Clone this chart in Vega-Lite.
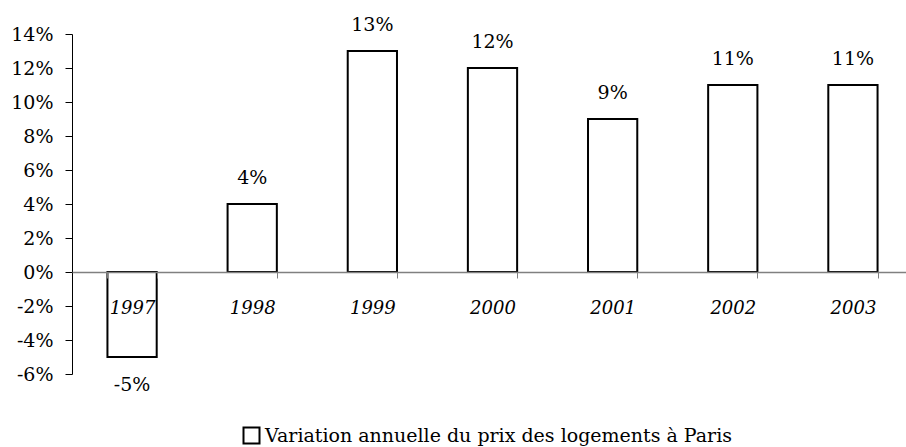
{
  "$schema": "https://vega.github.io/schema/vega-lite/v6.json",
  "autosize": "none",
  "padding": {"left": 72, "top": 34, "right": 0, "bottom": 73},
  "width": 841,
  "height": 340,
  "background": "white",
  "config": {
    "view": {"stroke": null},
    "font": "DejaVu Serif",
    "locale": {"number": {"decimal": ".", "thousands": ",", "grouping": [3], "currency": ["", ""], "minus": "-"}},
    "axis": {"grid": false, "labelFont": "DejaVu Serif", "labelFontSize": 19, "labelColor": "#000"},
    "legend": {"labelFont": "DejaVu Serif"},
    "text": {"font": "DejaVu Serif"}
  },
  "data": {
    "values": [
      {"annee": "1997", "v": -0.05, "serie": "Variation annuelle du prix des logements à Paris"},
      {"annee": "1998", "v": 0.04, "serie": "Variation annuelle du prix des logements à Paris"},
      {"annee": "1999", "v": 0.13, "serie": "Variation annuelle du prix des logements à Paris"},
      {"annee": "2000", "v": 0.12, "serie": "Variation annuelle du prix des logements à Paris"},
      {"annee": "2001", "v": 0.09, "serie": "Variation annuelle du prix des logements à Paris"},
      {"annee": "2002", "v": 0.11, "serie": "Variation annuelle du prix des logements à Paris"},
      {"annee": "2003", "v": 0.11, "serie": "Variation annuelle du prix des logements à Paris"}
    ]
  },
  "encoding": {
    "x": {
      "field": "annee", "type": "nominal",
      "scale": {"paddingInner": 0.59, "paddingOuter": 0.295},
      "axis": {
        "title": null, "labelAngle": 0, "offset": -102, "zindex": 1,
        "labelFontSize": 18,
        "domainColor": "#808080", "domainWidth": 1.5,
        "tickColor": "#808080", "tickSize": 6, "tickBand": "extent",
        "labelFontStyle": "italic", "labelBaseline": "alphabetic", "labelPadding": 35
      }
    },
    "y": {
      "field": "v", "type": "quantitative",
      "scale": {"domain": [-0.06, 0.14], "nice": false, "zero": false},
      "axis": {
        "title": null, "format": ".0%",
        "values": [-0.06, -0.04, -0.02, 0, 0.02, 0.04, 0.06, 0.08, 0.1, 0.12, 0.14],
        "domainColor": "#000", "tickColor": "#000", "tickSize": 7, "labelPadding": 12
      }
    }
  },
  "layer": [
    {
      "mark": {"type": "bar", "fill": "white", "stroke": "#000", "strokeWidth": 2},
      "encoding": {
        "fill": {
          "field": "serie", "type": "nominal",
          "scale": {"range": ["white"]},
          "legend": {
            "title": null, "orient": "none", "legendX": 170, "legendY": 392,
            "symbolType": "square", "symbolSize": 256, "symbolStrokeColor": "#000",
            "symbolStrokeWidth": 2, "symbolFillColor": "white",
            "labelFontSize": 19, "labelColor": "#000",
            "labelLimit": 800, "padding": 0, "labelOffset": 4
          }
        }
      }
    },
    {
      "transform": [{"filter": "datum.v >= 0"}],
      "mark": {"type": "text", "fontSize": 19, "baseline": "alphabetic", "dy": -20, "color": "#000"},
      "encoding": {"text": {"field": "v", "type": "quantitative", "format": ".0%"}}
    },
    {
      "transform": [{"filter": "datum.v < 0"}],
      "mark": {"type": "text", "fontSize": 19, "baseline": "alphabetic", "dy": 34, "color": "#000"},
      "encoding": {"text": {"field": "v", "type": "quantitative", "format": ".0%"}}
    }
  ]
}
